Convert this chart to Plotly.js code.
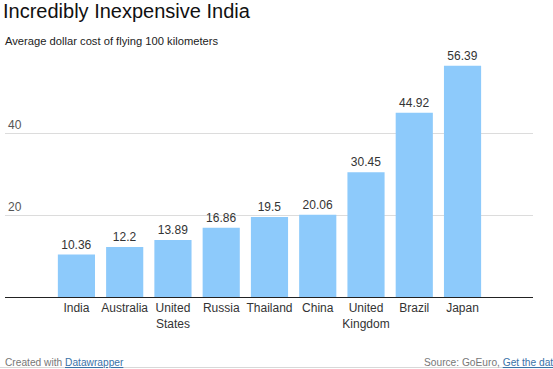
<!DOCTYPE html>
<html>
<head>
<meta charset="utf-8">
<script src="https://cdn.plot.ly/plotly-3.0.1.min.js"></script>
<style>html,body{margin:0;padding:0;background:#fff;}#chart{width:553px;height:369px;}</style>
</head>
<body>
<div id="chart"></div>
<script>
const countries = ["India", "Australia", "United<br>States", "Russia", "Thailand", "China", "United<br>Kingdom", "Brazil", "Japan"];
const costs = [10.36, 12.2, 13.89, 16.86, 19.5, 20.06, 30.45, 44.92, 56.39];
const costLabels = ["10.36", "12.2", "13.89", "16.86", "19.5", "20.06", "30.45", "44.92", "56.39"];
const yTicks = [20, 40];
const yTickLabels = ["20", "40"];

const FONT = "Liberation Sans, Arial, sans-serif";
const W = 553, H = 369, L = 5, R = 20, T = 51, B = 72;
const pw = W - L - R, ph = H - T - B;
const px2paperX = x => (x - L) / pw;
const px2paperY = y => (H - B - y) / ph;

const trace = {
  type: "bar",
  x: countries.map((c, i) => i),
  y: costs,
  text: costLabels,
  textposition: "outside",
  cliponaxis: false,
  textfont: {family: FONT, size: 12, color: "#333"},
  marker: {color: "#8DCAFB", line: {width: 0}},
  width: 0.77,
  hoverinfo: "none"
};

const annotations = yTicks.map((v, i) => ({
  xref: "paper", yref: "y", x: px2paperX(6), y: v,
  xanchor: "left", yanchor: "bottom", yshift: -1,
  text: yTickLabels[i], showarrow: false,
  font: {family: FONT, size: 12, color: "#555"}
}));

annotations.push({
  xref: "paper", yref: "paper", x: px2paperX(3), y: px2paperY(41),
  xanchor: "left", yanchor: "middle",
  text: "Average dollar cost of flying 100 kilometers", showarrow: false,
  font: {family: FONT, size: 11.2, color: "#222"}
});
annotations.push({
  xref: "paper", yref: "paper", x: px2paperX(3), y: px2paperY(362),
  xanchor: "left", yanchor: "middle",
  text: 'Created with <a href="https://www.datawrapper.de" style="color:#3a72a8;text-decoration:underline">Datawrapper</a>',
  showarrow: false,
  font: {family: FONT, size: 10.2, color: "#777"}
});
annotations.push({
  xref: "paper", yref: "paper", x: px2paperX(422), y: px2paperY(362),
  xanchor: "left", yanchor: "middle",
  text: 'Source: GoEuro, <a href="#" style="color:#3a72a8;text-decoration:underline">Get the data</a>',
  showarrow: false,
  font: {family: FONT, size: 10.2, color: "#777"}
});

const layout = {
  width: W, height: H,
  margin: {l: L, r: R, t: T, b: B, pad: 0},
  paper_bgcolor: "#fff", plot_bgcolor: "#fff",
  font: {family: FONT, color: "#333"},
  title: {
    text: "Incredibly Inexpensive India",
    xref: "container", yref: "container",
    x: 3 / W, xanchor: "left",
    y: 1 - 11 / H, yanchor: "middle",
    font: {family: FONT, size: 20, color: "#111"}
  },
  showlegend: false,
  xaxis: {
    range: [-1.48, 9.46],
    tickvals: countries.map((c, i) => i),
    ticktext: countries,
    tickfont: {family: FONT, size: 12, color: "#333"},
    ticks: "", showgrid: false, zeroline: false,
    showline: true, linecolor: "#222", linewidth: 1,
    fixedrange: true
  },
  yaxis: {
    range: [0, 60],
    tickvals: yTicks,
    showticklabels: false,
    showgrid: true, gridcolor: "#dcdcdc", gridwidth: 1,
    zeroline: false, showline: false, ticks: "",
    fixedrange: true
  },
  annotations: annotations,
  shapes: [{
    type: "line", xref: "paper", yref: "paper",
    x0: px2paperX(0), x1: px2paperX(553),
    y0: px2paperY(367.5), y1: px2paperY(367.5),
    line: {color: "#d8d8d8", width: 1}
  }]
};

Plotly.newPlot("chart", [trace], layout, {displayModeBar: false, staticPlot: true});
</script>
</body>
</html>
